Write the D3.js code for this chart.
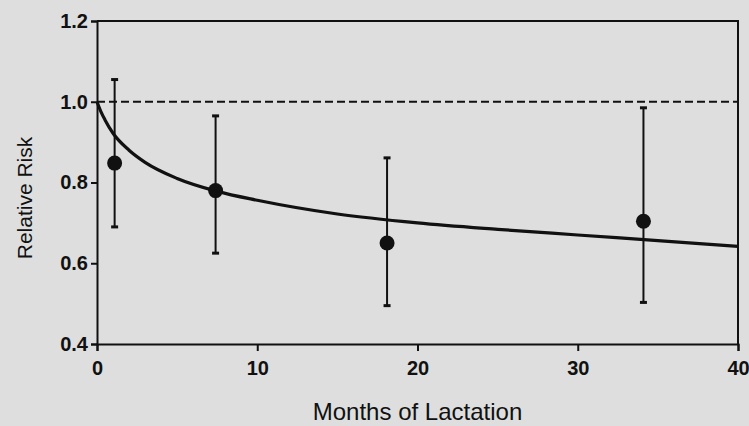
<html>
<head>
<script src="https://d3js.org/d3.v7.min.js"></script>
<style>
body { margin: 0; background: #dedede; }
svg { display: block; }
text { font-family: "Liberation Sans", Arial, Helvetica, sans-serif; fill: #111; }
</style>
</head>
<body>
<svg id="chart" width="749" height="426"></svg>
<script>
// points with 95% limits
var months = [1.1, 7.4, 18.1, 34.1];
var rr = [0.848, 0.78, 0.65, 0.704];
var lower = [0.69, 0.625, 0.495, 0.503];
var upper = [1.055, 0.965, 0.861, 0.985];

// fitted curve
var curveX = [0, 0.25, 0.5, 1, 2, 3, 5, 7.5, 10, 15, 20, 25, 30, 35, 40];
var curveY = [1.0, 0.975, 0.955, 0.922, 0.88, 0.85, 0.81, 0.778, 0.756, 0.722, 0.70, 0.684, 0.67, 0.656, 0.642];

var xTicks = [0, 10, 20, 30, 40];
var yTicks = [0.4, 0.6, 0.8, 1.0, 1.2];

var svg = d3.select("#chart");
var x = d3.scaleLinear().domain([0, 40]).range([97, 738]);
var y = d3.scaleLinear().domain([0.4, 1.2]).range([344, 21]);

// frame top + right
svg.append("path")
	.attr("d", "M" + x(0) + "," + y(1.2) + "H" + x(40) + "V" + y(0.4))
	.attr("fill", "none").attr("stroke", "#111").attr("stroke-width", 2);

var yAxis = svg.append("g").attr("transform", "translate(" + x(0) + ",0)")
	.call(d3.axisLeft(y).tickValues(yTicks).tickFormat(d3.format(".1f")).tickSize(6).tickPadding(3));
var xAxis = svg.append("g").attr("transform", "translate(0," + y(0.4) + ")")
	.call(d3.axisBottom(x).tickValues(xTicks).tickSize(7).tickPadding(10));

[xAxis, yAxis].forEach(function (g) {
	g.select(".domain").attr("stroke", "#111").attr("stroke-width", 2);
	g.selectAll(".tick line").attr("stroke", "#111").attr("stroke-width", 2);
	g.selectAll(".tick text").style("font-size", "20px").style("font-weight", "bold")
		.style("font-family", "'Liberation Sans', Arial, sans-serif").attr("fill", "#111");
});

// reference line
svg.append("line")
	.attr("x1", x(0)).attr("x2", x(40)).attr("y1", y(1)).attr("y2", y(1))
	.attr("stroke", "#111").attr("stroke-width", 2).attr("stroke-dasharray", "8,4");

// fitted curve
var line = d3.line().x(function (d) { return x(d[0]); }).y(function (d) { return y(d[1]); })
	.curve(d3.curveMonotoneX);
svg.append("path")
	.datum(d3.zip(curveX, curveY))
	.attr("d", line)
	.attr("fill", "none").attr("stroke", "#111").attr("stroke-width", 3.2);

// error bars
var pts = d3.range(months.length);
svg.selectAll("line.err").data(pts).enter().append("line").attr("class", "err")
	.attr("x1", function (i) { return x(months[i]); })
	.attr("x2", function (i) { return x(months[i]); })
	.attr("y1", function (i) { return y(lower[i]); })
	.attr("y2", function (i) { return y(upper[i]); })
	.attr("stroke", "#111").attr("stroke-width", 2);

var caps = [];
pts.forEach(function (i) { caps.push([months[i], lower[i]]); caps.push([months[i], upper[i]]); });
svg.selectAll("line.cap").data(caps).enter().append("line").attr("class", "cap")
	.attr("x1", function (d) { return x(d[0]) - 3.5; })
	.attr("x2", function (d) { return x(d[0]) + 3.5; })
	.attr("y1", function (d) { return y(d[1]); })
	.attr("y2", function (d) { return y(d[1]); })
	.attr("stroke", "#111").attr("stroke-width", 3);

svg.selectAll("circle.pt").data(pts).enter().append("circle").attr("class", "pt")
	.attr("cx", function (i) { return x(months[i]); })
	.attr("cy", function (i) { return y(rr[i]); })
	.attr("r", 7.5).attr("fill", "#111");

// axis titles
svg.append("text")
	.attr("x", (x(0) + x(40)) / 2).attr("y", 420)
	.attr("text-anchor", "middle").style("font-size", "24px")
	.text("Months of Lactation");
svg.append("text")
	.attr("transform", "translate(32,198) rotate(-90)")
	.attr("text-anchor", "middle").style("font-size", "21px")
	.text("Relative Risk");
</script>
</body>
</html>
